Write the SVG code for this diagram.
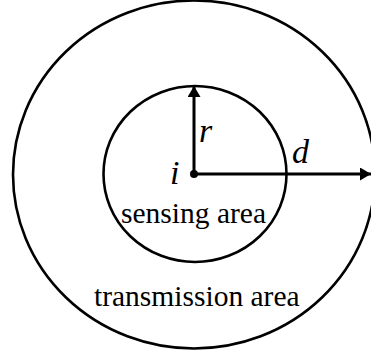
<svg xmlns="http://www.w3.org/2000/svg" width="371" height="356" viewBox="0 0 371 356">
<style>
.c{fill:none;stroke:#000;stroke-width:2.6}
.l{stroke:#000;stroke-width:3;fill:none}
.t{font-family:"Liberation Serif","Times New Roman",serif;font-size:29.5px;fill:#000}
.v{font-family:"Liberation Serif","Times New Roman",serif;font-style:italic;font-size:34px;fill:#000}
</style>
<defs>
<marker id="ah" markerWidth="11" markerHeight="13" refX="11" refY="6.5" orient="auto" markerUnits="userSpaceOnUse">
<path d="M0,0 L11,6.5 L0,13 Z" fill="#000"/>
</marker>
</defs>
<g id="transmission">
<ellipse class="c" cx="194" cy="174.5" rx="181" ry="174"/>
<text class="t" x="94" y="306">transmission area</text>
</g>
<g id="sensing">
<ellipse class="c" cx="195" cy="174" rx="91.5" ry="88"/>
<text class="t" x="121" y="223">sensing area</text>
</g>
<g id="connectors">
<line class="l" x1="194" y1="174" x2="194" y2="86" marker-end="url(#ah)"/>
<line class="l" x1="194" y1="174" x2="371" y2="174" marker-end="url(#ah)"/>
</g>
<g id="node-i">
<circle cx="194" cy="174" r="4" fill="#000"/>
<text class="v" x="170" y="184">i</text>
</g>
<text class="v" x="199" y="142">r</text>
<text class="v" x="292" y="163">d</text>
</svg>
